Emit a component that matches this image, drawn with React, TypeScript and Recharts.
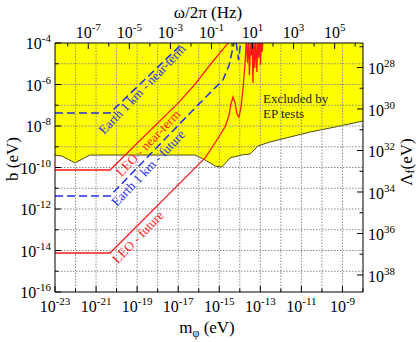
import React from 'react';
import { ComposedChart, Area, Line, XAxis, YAxis, ReferenceLine, ReferenceDot, Label } from 'recharts';

// all values are log10: x = m_phi (eV), y = b (eV)
const epBoundM = [-23, -22.66, -22.03, -21.3, -16.18, -15.69, -15.2, -14.87, -14.48, -13.94, -13.5, -13.11, -12.53, -11.55, -10.58, -9.61, -8];
const epBoundB = [-9.4, -9.45, -9.78, -9.4, -9.4, -9.64, -9.93, -9.98, -9.54, -9.4, -9.35, -8.96, -8.77, -8.53, -8.29, -8.1, -7.76];

const leoNearM = [-23, -20.32, -16.91, -16.18, -15.45, -14.57, -14.45];
const leoNearB = [-10.12, -10.12, -6.8, -5.98, -5.06, -4.0, -3.6];

const earthNearM = [-23, -20.32, -16.77, -16.6];
const earthNearB = [-7.37, -7.37, -4.0, -3.8];

const earthFutureM = [-23, -20.32, -16.18, -14.82, -14.52, -14.38, -14.28, -14.2, -14.06, -13.94];
const earthFutureB = [-11.37, -11.37, -7.13, -5.78, -5.06, -4.43, -4.0, -3.8, -4.82, -3.8];

const leoFutureM = [-23, -20.32, -15.69, -15.21, -14.72, -14.52, -14.43, -14.33, -14.23, -14.14, -14.04, -13.94, -13.84, -13.75,
  -13.68, -13.63, -13.58, -13.53, -13.48, -13.44, -13.4, -13.36, -13.31, -13.27, -13.22, -13.17, -13.12, -13.08, -13.03, -12.99, -12.95, -12.91, -12.87];
const leoFutureB = [-14.12, -14.12, -9.54, -8.82, -8.05, -7.47, -6.94, -6.6, -6.89, -7.42, -7.57, -7.08, -6.17, -5.06,
  -3.8, -4.95, -3.8, -5.55, -3.8, -4.6, -3.8, -5.93, -3.8, -5.2, -3.8, -5.4, -3.8, -4.72, -3.8, -5.06, -3.8, -4.43, -3.8];

// tick exponents
const mTicks = [-23, -22, -21, -20, -19, -18, -17, -16, -15, -14, -13, -12, -11, -10, -9, -8];
const mLabels = [-23, -21, -19, -17, -15, -13, -11, -9];
const bTicks = [-16, -15, -14, -13, -12, -11, -10, -9, -8, -7, -6, -5, -4];
const bLabels = [-16, -14, -12, -10, -8, -6, -4];
const fTicks = [-8, -7, -6, -5, -4, -3, -2, -1, 0, 1, 2, 3, 4, 5, 6];
const fLabels = [-7, -5, -3, -1, 1, 3, 5];
const lamTicks = [27, 28, 29, 30, 31, 32, 33, 34, 35, 36, 37, 38];
const lamLabels = [28, 30, 32, 34, 36, 38];

const LOG_HZ_PER_EV = 14.38; // f = m / h
const LAMBDA_TIMES_B = 22.82; // Lambda_f = const / b

const W = 416;
const H = 342;
const PLOT = { left: 55, top: 43, right: 363, bottom: 292 };
const FONT = "'Liberation Serif', 'Times New Roman', Times, serif";

const zip = (ms: number[], bs: number[]) => ms.map((m, i) => ({ m, b: bs[i] }));
// the EP bound is put on the frequency axis so that the top axis has data
const epData = epBoundM.map((m, i) => ({ f: m + LOG_HZ_PER_EV, b: epBoundB[i] }));

const txt = { fontFamily: FONT };

const BottomTick = ({ x, payload }: any) => {
  const v = payload.value;
  const major = mLabels.includes(v);
  return (
    <g>
      <line x1={x} x2={x} y1={PLOT.bottom} y2={PLOT.bottom - (major ? 6 : 3.5)} stroke="#000" />
      {major && (
        <text x={x} y={PLOT.bottom + 20} textAnchor="middle" fontSize={16} style={txt} fill="#000">
          10<tspan dy={-7} fontSize={11}>{v}</tspan>
        </text>
      )}
    </g>
  );
};

const LeftTick = ({ y, payload }: any) => {
  const v = payload.value;
  const major = bLabels.includes(v);
  return (
    <g>
      <line x1={PLOT.left} x2={PLOT.left + (major ? 6 : 3.5)} y1={y} y2={y} stroke="#000" />
      {major && (
        <text x={PLOT.left - 4} y={y + 6} textAnchor="end" fontSize={16} style={txt} fill="#000">
          10<tspan dy={-7} fontSize={11}>{v}</tspan>
        </text>
      )}
    </g>
  );
};

const TopTick = ({ x, payload }: any) => {
  const v = payload.value;
  const major = fLabels.includes(v);
  return (
    <g>
      <line x1={x} x2={x} y1={PLOT.top} y2={PLOT.top + (major ? 6 : 3.5)} stroke="#000" />
      {major && (
        <text x={x} y={PLOT.top - 5} textAnchor="middle" fontSize={16} style={txt} fill="#000">
          10<tspan dy={-7} fontSize={11}>{v}</tspan>
        </text>
      )}
    </g>
  );
};

const RightTick = ({ y, payload }: any) => {
  const v = payload.value;
  const major = lamLabels.includes(v);
  return (
    <g>
      <line x1={PLOT.right} x2={PLOT.right - (major ? 6 : 3.5)} y1={y} y2={y} stroke="#000" />
      {major && (
        <text x={PLOT.right + 5} y={y + 7} textAnchor="start" fontSize={16} style={txt} fill="#000">
          10<tspan dy={-7} fontSize={11}>{v}</tspan>
        </text>
      )}
    </g>
  );
};

const slanted = (text: string, color: string) => (p: any) => (
  <text
    x={p.cx}
    y={p.cy}
    transform={`rotate(-46 ${p.cx} ${p.cy})`}
    textAnchor="middle"
    dominantBaseline="central"
    fontSize={13}
    style={txt}
    fill={color}
  >
    {text}
  </text>
);

const RED = '#ff1a1a';
const BLUE = '#1f2fe6';

export default function App() {
  return (
    <div style={{ position: 'absolute', left: 0, top: 0, width: W, height: H, background: '#fff', fontFamily: FONT }}>
      <ComposedChart width={W} height={H} margin={{ top: 0, right: 0, bottom: 0, left: 0 }}>
        <XAxis
          xAxisId="bottom"
          dataKey="m"
          type="number"
          domain={[-23, -8]}
          allowDataOverflow
          ticks={mTicks}
          interval={0}
          height={H - PLOT.bottom}
          tickLine={false}
          tick={<BottomTick />}
          axisLine={{ stroke: '#000' }}
        >
          <Label
            content={() => (
              <text x={207} y={333} textAnchor="middle" fontSize={17} style={txt} fill="#000">
                m<tspan dy={4} fontSize={12}>φ</tspan>
                <tspan dy={-4}> (eV)</tspan>
              </text>
            )}
          />
        </XAxis>
        <XAxis
          xAxisId="top"
          dataKey="f"
          orientation="top"
          type="number"
          domain={[-23 + LOG_HZ_PER_EV, -8 + LOG_HZ_PER_EV]}
          allowDataOverflow
          ticks={fTicks}
          interval={0}
          height={PLOT.top}
          tickLine={false}
          tick={<TopTick />}
          axisLine={{ stroke: '#000' }}
        >
          <Label
            content={() => (
              <text x={208} y={18} textAnchor="middle" fontSize={17} style={txt} fill="#000">
                ω/2π (Hz)
              </text>
            )}
          />
        </XAxis>
        <YAxis
          yAxisId="left"
          type="number"
          domain={[-16, -4]}
          allowDataOverflow
          ticks={bTicks}
          interval={0}
          width={PLOT.left}
          tickLine={false}
          tick={<LeftTick />}
          axisLine={{ stroke: '#000' }}
        >
          <Label
            content={() => (
              <text x={12} y={159} transform="rotate(-90 12 159)" textAnchor="middle" dominantBaseline="central" fontSize={17} style={txt} fill="#000">
                b (eV)
              </text>
            )}
          />
        </YAxis>
        <YAxis
          yAxisId="right"
          orientation="right"
          type="number"
          domain={[LAMBDA_TIMES_B + 4, LAMBDA_TIMES_B + 16]}
          reversed
          allowDataOverflow
          ticks={lamTicks}
          interval={0}
          width={W - PLOT.right}
          tickLine={false}
          tick={<RightTick />}
          axisLine={{ stroke: '#000' }}
        >
          <Label
            content={() => (
              <text x={406} y={162} transform="rotate(-90 406 162)" textAnchor="middle" dominantBaseline="central" fontSize={17} style={txt} fill="#000">
                Λ<tspan dy={4} fontSize={12}>f</tspan>
                <tspan dy={-4}>(eV)</tspan>
              </text>
            )}
          />
        </YAxis>

        <Area
          data={epData}
          dataKey="b"
          xAxisId="top"
          yAxisId="left"
          type="linear"
          baseValue={-4}
          fill="#ffff00"
          fillOpacity={1}
          stroke="#4a4a1a"
          strokeWidth={1}
          dot={false}
          activeDot={false}
          isAnimationActive={false}
        />

        {mTicks.slice(1, -1).map((v) => (
          <ReferenceLine key={`gx${v}`} x={v} xAxisId="bottom" yAxisId="left" stroke="#8a8a8a" strokeDasharray="1.5 1.5" />
        ))}
        {bTicks.slice(1, -1).map((v) => (
          <ReferenceLine key={`gy${v}`} y={v} xAxisId="bottom" yAxisId="left" stroke="#8a8a8a" strokeDasharray="1.5 1.5" />
        ))}

        <Line data={zip(earthNearM, earthNearB)} dataKey="b" xAxisId="bottom" yAxisId="left" type="linear" stroke={BLUE} strokeWidth={1.5} strokeDasharray="8 4" dot={false} isAnimationActive={false} />
        <Line data={zip(earthFutureM, earthFutureB)} dataKey="b" xAxisId="bottom" yAxisId="left" type="linear" stroke={BLUE} strokeWidth={1.5} strokeDasharray="8 4" dot={false} isAnimationActive={false} />
        <Line data={zip(leoNearM, leoNearB)} dataKey="b" xAxisId="bottom" yAxisId="left" type="linear" stroke={RED} strokeWidth={1.3} dot={false} isAnimationActive={false} />
        <Line data={zip(leoFutureM, leoFutureB)} dataKey="b" xAxisId="bottom" yAxisId="left" type="linear" stroke={RED} strokeWidth={1.3} dot={false} isAnimationActive={false} />

        <ReferenceDot x={-18.76} y={-6.22} xAxisId="bottom" yAxisId="left" r={0} shape={slanted('Earth 1 km - near-term', BLUE)} />
        <ReferenceDot x={-18.47} y={-8.82} xAxisId="bottom" yAxisId="left" r={0} shape={slanted('LEO - near-term', RED)} />
        <ReferenceDot x={-18.47} y={-10.02} xAxisId="bottom" yAxisId="left" r={0} shape={slanted('Earth 1 km - future', BLUE)} />
        <ReferenceDot x={-18.96} y={-13.35} xAxisId="bottom" yAxisId="left" r={0} shape={slanted('LEO - future', RED)} />
        <ReferenceDot
          x={-12.87}
          y={-6.89}
          xAxisId="bottom"
          yAxisId="left"
          r={0}
          shape={(p: any) => (
            <text x={p.cx} y={p.cy} fontSize={13} style={txt} fill="#222">
              Excluded by
              <tspan x={p.cx} dy={15}>EP tests</tspan>
            </text>
          )}
        />
      </ComposedChart>
    </div>
  );
}
